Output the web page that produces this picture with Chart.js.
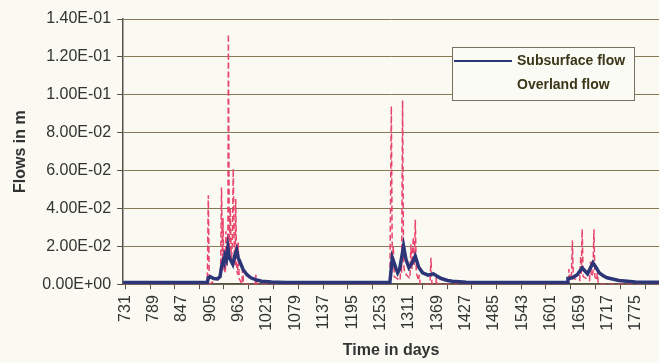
<!DOCTYPE html>
<html>
<head>
<meta charset="utf-8">
<script src="https://cdn.jsdelivr.net/npm/chart.js@4/dist/chart.umd.min.js"></script>
<style>
  html, body { margin: 0; padding: 0; background: #fafaf3; }
  #wrap { width: 659px; height: 363px; }
</style>
</head>
<body>
<div id="wrap"><canvas id="flowChart"></canvas></div>
<script>
// valores (dias / caudal en m)
const subsurfaceDays = [727, 899, 901, 905, 912, 920, 925, 928, 931, 933, 935, 938, 941, 944, 948, 951, 955, 959, 962, 967, 972, 980, 988, 1000, 1010, 1030, 1060,
  1272, 1274, 1277, 1281, 1285, 1288, 1292, 1296, 1300, 1305, 1311, 1317, 1324, 1331, 1339, 1350, 1361, 1370, 1377, 1390, 1400, 1428, 1460,
  1634, 1636, 1645, 1655, 1665, 1676, 1687, 1693, 1700, 1708, 1716, 1740, 1774, 1822];
const subsurfaceFlow = [0.0009, 0.0009, 0.0035, 0.004, 0.003, 0.0028, 0.004, 0.009, 0.012, 0.011, 0.015, 0.013, 0.0195, 0.014, 0.012, 0.0105, 0.015, 0.018, 0.014, 0.011, 0.0078, 0.005, 0.0034, 0.0022, 0.0016, 0.0012, 0.0009,
  0.0009, 0.006, 0.0139, 0.011, 0.008, 0.006, 0.008, 0.014, 0.0201, 0.013, 0.0087, 0.011, 0.0148, 0.009, 0.006, 0.0048, 0.0055, 0.004, 0.003, 0.002, 0.0016, 0.001, 0.0009,
  0.0009, 0.003, 0.0034, 0.005, 0.0087, 0.0055, 0.0113, 0.009, 0.006, 0.0045, 0.0034, 0.002, 0.0012, 0.001];

const overlandDays = [727, 899, 901, 903, 926, 928, 930, 931, 933, 936, 937, 939, 941, 942, 944, 946, 948, 950, 952, 954, 956, 957, 959, 961, 962, 964, 970, 971, 973, 997, 998, 1000,
  1272, 1275, 1277, 1279, 1281, 1293, 1295, 1296, 1298, 1300, 1302, 1313, 1315, 1317, 1320, 1322, 1324, 1326, 1331, 1332, 1334, 1354, 1356, 1358, 1366, 1367, 1369,
  1636, 1638, 1640, 1643, 1645, 1647, 1660, 1662, 1663, 1665, 1667, 1680, 1682, 1684, 1687, 1689, 1691, 1695, 1696, 1698, 1822];
const overlandFlow = [0, 0, 0.047, 0, 0.004, 0.051, 0.012, 0.035, 0.008, 0.006, 0.028, 0.01, 0.018, 0.132, 0.015, 0.04, 0.012, 0.02, 0.061, 0.018, 0.01, 0.045, 0.008, 0.005, 0.022, 0.003, 0, 0.01, 0, 0, 0.005, 0,
  0, 0.094, 0.01, 0.02, 0.004, 0.002, 0.015, 0.006, 0.097, 0.012, 0.006, 0.003, 0.021, 0.008, 0.025, 0.01, 0.034, 0.006, 0.002, 0.005, 0, 0, 0.014, 0, 0, 0.003, 0,
  0, 0.008, 0.002, 0.004, 0.023, 0.003, 0.002, 0.015, 0.005, 0.029, 0.004, 0.002, 0.012, 0.004, 0.006, 0.029, 0.004, 0.002, 0.008, 0, 0];

// etiquetas del eje X (cada 58 dias) y marcas del eje
const xTickLabels = [731, 789, 847, 905, 963, 1021, 1079, 1137, 1195, 1253, 1311, 1369, 1427, 1485, 1543, 1601, 1659, 1717, 1775];
const xTickMarks = [731, 782, 832, 883, 933, 984, 1035, 1085, 1136, 1186, 1237, 1288, 1338, 1389, 1439, 1490, 1541, 1591, 1642, 1692, 1743, 1794];

const toPoints = (xs, ys) => xs.map((d, i) => ({ x: d, y: ys[i] }));

// formato tipo Excel: 1.40E-01
function sci(v) {
    const [m, e] = Number(v).toExponential(2).split('e');
    const n = parseInt(e, 10);
    return m + 'E' + (n < 0 ? '-' : '+') + String(Math.abs(n)).padStart(2, '0');
}

const gridColor = '#857a55';
const axisColor = '#55524a';
const textColor = '#333333';

// leyenda dibujada dentro del area del grafico
const boxLegend = {
    id: 'boxLegend',
    afterDraw(chart) {
        const c = chart.ctx;
        const a = chart.chartArea;
        const x = a.right - 207, y = a.top + 28, w = 182, h = 53;
        c.save();
        c.fillStyle = '#fbfbf5';
        c.fillRect(x, y, w, h);
        c.strokeStyle = '#77725f';
        c.lineWidth = 1;
        c.strokeRect(x + 0.5, y + 0.5, w, h);
        c.font = 'bold 14px "Liberation Sans", Arial, sans-serif';
        c.textBaseline = 'middle';
        chart.data.datasets.forEach((ds, i) => {
            const ly = y + 14 + i * 24;
            if (ds.legendSample) {
                c.strokeStyle = ds.borderColor;
                c.lineWidth = 2;
                c.setLineDash(ds.borderDash || []);
                c.beginPath();
                c.moveTo(x + 2, ly);
                c.lineTo(x + 60, ly);
                c.stroke();
                c.setLineDash([]);
            }
            c.fillStyle = '#3b3618';
            c.fillText(ds.label, x + 65, ly);
        });
        c.restore();
    }
};

new Chart(document.getElementById('flowChart'), {
    type: 'line',
    data: {
        datasets: [
            {
                label: 'Subsurface flow',
                data: toPoints(subsurfaceDays, subsurfaceFlow),
                borderColor: '#2c3577',
                borderWidth: 3.5,
                pointRadius: 0,
                tension: 0,
                legendSample: true
            },
            {
                label: 'Overland flow',
                data: toPoints(overlandDays, overlandFlow),
                borderColor: '#e8456d',
                borderWidth: 1.5,
                borderDash: [6, 3],
                pointRadius: 0,
                tension: 0,
                legendSample: false
            }
        ]
    },
    options: {
        responsive: true,
        maintainAspectRatio: false,
        animation: false,
        layout: { padding: { left: 11, top: 19, right: 0, bottom: 3 } },
        plugins: {
            legend: { display: false },
            tooltip: { enabled: false }
        },
        scales: {
            x: {
                type: 'linear',
                min: 727,
                max: 1822,
                afterBuildTicks(scale) {
                    const vals = Array.from(new Set([...xTickMarks, ...xTickLabels])).sort((a, b) => a - b);
                    scale.ticks = vals.map(v => ({ value: v }));
                },
                afterFit(scale) {
                    scale.paddingRight = 0;
                },
                ticks: {
                    autoSkip: false,
                    minRotation: 90,
                    maxRotation: 90,
                    padding: 6,
                    color: textColor,
                    font: { family: '"Liberation Sans", Arial, sans-serif', size: 16 },
                    callback: v => xTickLabels.includes(v) ? String(v) : ''
                },
                grid: {
                    drawOnChartArea: false,
                    tickLength: 5,
                    tickColor: c => (c.tick && !xTickMarks.includes(c.tick.value)) ? 'rgba(0,0,0,0)' : axisColor
                },
                border: { color: axisColor, width: 1.5 },
                title: {
                    display: true,
                    text: 'Time in days',
                    color: textColor,
                    font: { family: '"Liberation Sans", Arial, sans-serif', size: 16, weight: 'bold' },
                    padding: { top: 4, bottom: 0 }
                }
            },
            y: {
                min: 0,
                max: 0.14,
                ticks: {
                    stepSize: 0.02,
                    padding: 6,
                    color: textColor,
                    font: { family: '"Liberation Sans", Arial, sans-serif', size: 16 },
                    callback: v => sci(v)
                },
                grid: { color: gridColor, lineWidth: 1, tickLength: 6, tickColor: axisColor },
                border: { color: axisColor, width: 1.5 },
                title: {
                    display: true,
                    text: 'Flows in m',
                    color: textColor,
                    font: { family: '"Liberation Sans", Arial, sans-serif', size: 16, weight: 'bold' },
                    padding: { top: 0, bottom: 6 }
                }
            }
        }
    },
    plugins: [boxLegend]
});
</script>
</body>
</html>
